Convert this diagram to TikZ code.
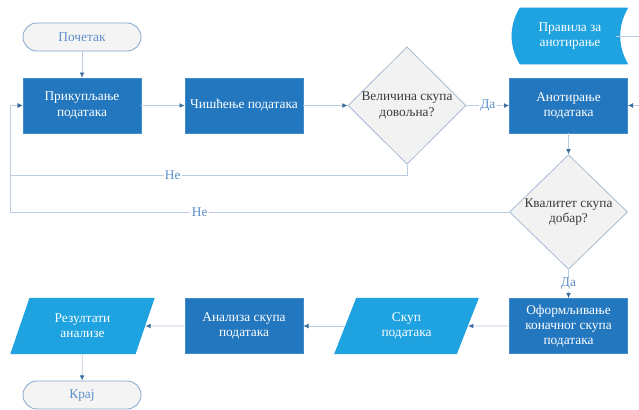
\documentclass[tikz,border=0pt]{standalone}
\usepackage{fontspec}
\setmainfont{Liberation Serif}
\usepackage{tikz}
\usepackage{xcolor}
\usetikzlibrary{arrows.meta,positioning,shapes.geometric,backgrounds}
\definecolor{boxblue}{HTML}{2377BF}
\definecolor{skyblue}{HTML}{1EA2E0}
\definecolor{termfill}{HTML}{F4F4F4}
\definecolor{termline}{HTML}{86A9CE}
\definecolor{decfill}{HTML}{F2F2F2}
\definecolor{decline}{HTML}{A9BFD8}
\definecolor{wire}{HTML}{BCCBDD}
\definecolor{tipblue}{HTML}{3C6E9E}
\definecolor{lbltext}{HTML}{5B8FC9}
\definecolor{ink}{HTML}{3A3A3A}
\newcommand{\boxfont}{\fontsize{9.5}{10.8}\selectfont}
\tikzset{
  procbox/.style={draw=boxblue!85!white,fill=boxblue,line width=0.4pt,
                  minimum width=2.95cm,minimum height=1.375cm,
                  align=center,text=white,font=\boxfont,inner sep=2pt},
  termbox/.style={draw=termline,fill=termfill,line width=0.6pt,
                  rounded corners=0.35cm,minimum width=2.95cm,minimum height=0.7cm,
                  text=lbltext,font=\boxfont,inner sep=2pt},
  decision/.style={diamond,aspect=1,draw=decline,fill=decfill,line width=0.6pt,
                   minimum width=2.95cm,minimum height=2.78cm,inner sep=0pt,
                   align=center,text=ink,font=\boxfont},
  iobox/.style={trapezium,trapezium left angle=68.6,trapezium right angle=111.4,
                trapezium stretches=true,fill=skyblue,
                minimum width=3.625cm,minimum height=1.4cm,
                align=center,text=white,font=\boxfont,inner sep=1pt},
  storebox/.style={minimum width=2.7cm,minimum height=1.4cm,
                   align=center,text=white,font=\boxfont,inner sep=2pt},
  link/.style={draw=wire,line width=0.6pt,
               -{Latex[length=1.3mm,width=1.2mm,color=tipblue]}},
  yesno/.style={fill=white,text=lbltext,inner sep=1pt,font=\boxfont}
}

\begin{document}
\begin{tikzpicture}[x=0.025cm,y=-0.025cm]
  \useasboundingbox (0,0) rectangle (639,409);
  \clip (0,0) rectangle (639,409);

  % top row
  \node[termbox] (start) at (82,37) {Почетак};
  \node[procbox] (collect) at (82,105.5) {Прикупљање\\података};
  \node[procbox] (clean) at (244,105.5) {Чишћење података};
  \node[decision] (sizeq) at (407,105.5) {Величина скупа\\довољна?};
  \node[storebox] (rules) at (570,36) {Правила за\\анотирање};
  \node[procbox] (annot) at (568.5,105.5) {Анотирање\\података};

  % right column and bottom row
  \node[decision] (qualq) at (568.5,212) {Квалитет скупа\\добар?};
  \node[procbox] (final) at (568.5,326) {Оформљивање\\коначног скупа\\података};
  \node[iobox] (dataset) at (406.5,326) {Скуп\\података};
  \node[procbox] (analysis) at (244,326) {Анализа скупа\\података};
  \node[iobox] (results) at (82.5,326) {Резултати\\анализе};
  \node[termbox] (finish) at (82,395) {Крај};

  \coordinate (backA) at (10,175);
  \coordinate (backB) at (10,212);
  \coordinate (rjoin) at (655,70);

  \begin{scope}[on background layer]
    \fill[white] (0,0) rectangle (639,409);
    % stored data outline: bulging left side, hollow right side
    \fill[skyblue] ([xshift=1mm]rules.north west)
      .. controls +(-0.27cm,-0.45cm) and +(-0.27cm,0.45cm) .. ([xshift=1mm]rules.south west)
      -- ([xshift=1mm]rules.south east)
      .. controls +(-0.27cm,0.45cm) and +(-0.27cm,-0.45cm) .. ([xshift=1mm]rules.north east)
      -- cycle;
  \end{scope}

  \draw[link] (start) -- (collect);
  \draw[link] (collect) -- (clean);
  \draw[link] (clean) -- (sizeq);
  \draw[link] (sizeq) -- node[yesno] {Да} (annot);
  \draw[link] ([xshift=-2mm]rules.east) -| (rjoin) |- (annot.east);
  \draw[link] (annot) -- (qualq);
  \draw[link] (qualq) -- node[yesno] {Да} (final);
  \draw[link] (final) -- (dataset);
  \draw[link] (dataset) -- (analysis);
  \draw[link] (analysis) -- (results);
  \draw[link] (results) -- (finish);

  % the two "no" loops back to collecting
  \draw[link] (sizeq.south) |- node[yesno,pos=0.795] {Не} (backA) |- (collect.west);
  \draw[link] (qualq.west) -- node[yesno,pos=0.62] {Не} (backB) |- (collect.west);
\end{tikzpicture}
\end{document}
